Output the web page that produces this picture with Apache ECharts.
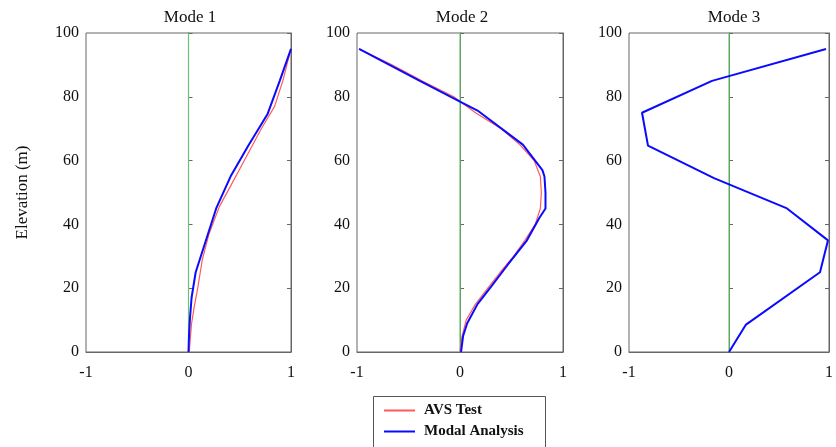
<!DOCTYPE html>
<html><head><meta charset="utf-8">
<script src="https://cdn.jsdelivr.net/npm/echarts@6/dist/echarts.min.js"></script>
<style>html,body{margin:0;padding:0;background:#fff}#c{width:836px;height:447px}</style>
</head><body><div id="c"></div>
<script>
// Mode shapes: [displacement, elevation]
const mode1Test  = [[0.007,0],[0.03,9],[0.055,14],[0.09,20],[0.135,29],[0.2,37],[0.30,45.5],[0.41,52],[0.56,61],[0.71,70],[0.84,77],[0.92,85],[1.0,95]];
const mode1Modal = [[0,0],[0.005,5],[0.013,10],[0.03,17],[0.07,25],[0.15,33],[0.27,45],[0.41,55],[0.58,64.5],[0.77,74.5],[0.89,85],[1.0,95]];
const mode2Test  = [[0,0],[0.02,5],[0.06,10],[0.15,15],[0.27,20],[0.39,25],[0.52,30],[0.63,35],[0.73,40],[0.78,45],[0.79,50],[0.78,55],[0.72,60],[0.58,65],[0.40,70],[0.15,75],[-0.06,80],[-0.37,85],[-0.66,90],[-0.98,95]];
const mode2Modal = [[0.01,0],[0.03,5],[0.07,9],[0.17,15],[0.30,20.4],[0.46,27.2],[0.65,35],[0.77,42],[0.83,45],[0.83,50],[0.82,55],[0.80,57],[0.61,65],[0.17,75.7],[0.0,78.5],[-0.39,85],[-0.98,95]];
const mode3Modal = [[0,0],[0.17,8.6],[0.91,25],[0.99,35],[0.58,45],[-0.15,54.5],[-0.81,64.7],[-0.87,75],[-0.17,85],[0.97,95]];
const zeroLine   = [[0,0],[0,100]];
const modeTitles = ['Mode 1','Mode 2','Mode 3'];
const xTicks = [-1,0,1];
const yTicks = [0,20,40,60,80,100];

const FONT = '"Liberation Serif","DejaVu Serif",serif';
const grids = [
  {left:86, top:33, width:205, height:319},
  {left:357, top:33, width:206, height:319},
  {left:629, top:33, width:206, height:319}
];
const titleX = [185, 457, 729];

const xAxes = [], yAxes = [];
grids.forEach((g,i)=>{
  xAxes.push({gridIndex:i, type:'value', min:xTicks[0], max:xTicks[xTicks.length-1], interval:1,
    axisLine:{show:true,lineStyle:{color:'#666',width:1}}, axisTick:{show:false},
    splitLine:{show:false},
    axisLabel:{color:'#111', fontFamily:FONT, fontSize:16, margin:13}});
  yAxes.push({gridIndex:i, type:'value', min:yTicks[0], max:yTicks[yTicks.length-1], interval:20,
    name: i===0 ? 'Elevation (m)' : '', nameLocation:'middle', nameGap:55,
    nameTextStyle:{fontFamily:FONT, fontSize:17, color:'#111'},
    axisLine:{show:true,lineStyle:{color:'#666',width:1}},
    axisTick:{show:true, inside:true, length:4, lineStyle:{color:'#666'}},
    splitLine:{show:false},
    axisLabel:{color:'#111', fontFamily:FONT, fontSize:16, margin:7}});
  yAxes.push({gridIndex:i, type:'value', position:'right', min:0, max:100, interval:20,
    axisLine:{show:true,lineStyle:{color:'#666',width:1}},
    axisTick:{show:true, inside:true, length:4, lineStyle:{color:'#666'}},
    axisLabel:{show:false}, splitLine:{show:false}});
});

function line(name, data, gi, color, width, z){
  return {name, type:'line', data, xAxisIndex:gi, yAxisIndex:gi*2, symbol:'none',
    lineStyle:{color, width}, itemStyle:{color}, z, animation:false};
}
const RED = '#ff5a5a', BLUE = '#0a0aff', GREEN = '#6cc46c';
const series = [];
[0,1,2].forEach(i=>{
  series.push({type:'line', data:zeroLine, xAxisIndex:i, yAxisIndex:i*2, symbol:'none',
    lineStyle:{color:GREEN,width:1.2}, z:1, silent:true, animation:false});
});
series.push(line('AVS Test', mode1Test, 0, RED, 1.2, 2));
series.push(line('Modal Analysis', mode1Modal, 0, BLUE, 2, 3));
series.push(line('AVS Test', mode2Test, 1, RED, 1.2, 2));
series.push(line('Modal Analysis', mode2Modal, 1, BLUE, 2, 3));
series.push(line('Modal Analysis', mode3Modal, 2, BLUE, 2, 3));

const chart = echarts.init(document.getElementById('c'), null, {renderer:'canvas'});
chart.setOption({
  backgroundColor:'#fff',
  animation:false,
  title: modeTitles.map((t,i)=>({text:t, left:titleX[i], top:4, textAlign:'center',
    textStyle:{fontFamily:FONT, fontSize:17, fontWeight:'normal', color:'#111'}})),
  grid: grids.map(g=>Object.assign({show:true, borderColor:'#666', borderWidth:1, backgroundColor:'transparent'}, g)),
  xAxis:xAxes, yAxis:yAxes,
  graphic:[{type:'rect', shape:{x:373.5, y:396.5, width:172, height:60},
    style:{fill:'#fff', stroke:'#555', lineWidth:1}, z:-1, silent:true}],
  legend:{data:['AVS Test','Modal Analysis'], orient:'vertical', left:373, top:396,
    padding:[7,10,0,11], itemWidth:31, itemHeight:2, itemGap:6, icon:'rect',
    textStyle:{fontFamily:FONT, fontSize:15, fontWeight:'bold', color:'#111', padding:[0,0,0,4]}},
  series
});
</script></body></html>
